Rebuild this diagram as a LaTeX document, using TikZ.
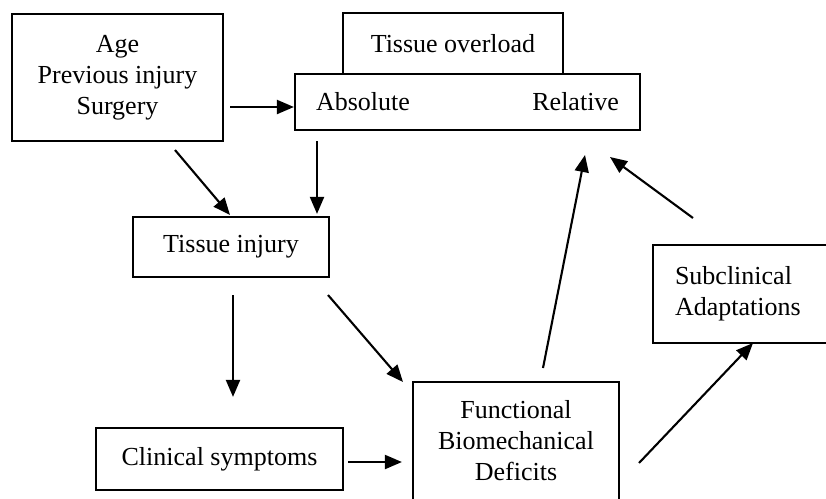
\documentclass[tikz,border=0pt]{standalone}
\usepackage{fontspec}
\setmainfont{Liberation Serif}
\usetikzlibrary{arrows.meta}
\begin{document}
\begin{tikzpicture}[x=1pt,y=-1pt,
  box/.style={draw,line width=2.2pt,inner sep=0pt,align=center,
    font=\fontsize{26}{31}\selectfont},
  arr/.style={line width=2.1pt,-{Triangle[length=17pt,width=14pt]}}]
\useasboundingbox (0,0) rectangle (826,498);

% boxes
\node[box,minimum width=211,minimum height=127] (A) at (117.5,77.5)
  {Age\\Previous injury\\Surgery};
\node[box,minimum width=220,minimum height=61] (TO) at (453,43.5) {Tissue overload};
\node[box,minimum width=345,minimum height=56,text width=303,inner xsep=21,align=left]
  (ov) at (467.5,102) {Absolute\hfill Relative};
\node[box,minimum width=196,minimum height=60] (TI) at (231,247) {Tissue injury};
\node[box,minimum width=247,minimum height=62] (CS) at (219.5,459) {Clinical symptoms};
\node[box,minimum width=206,minimum height=118] (FB) at (516,441)
  {Functional\\Biomechanical\\Deficits};
\node[box,text width=136,inner xsep=22,minimum height=98,align=left] (SA) at (743,294)
  {Subclinical\\Adaptations};

% connector end points
\coordinate (a1) at (230,107);
\coordinate (a2s) at (175,150);  \coordinate (a2e) at (230,215);
\coordinate (a3) at (317,141);
\coordinate (a4) at (233,295);
\coordinate (a5s) at (328,295);  \coordinate (a5e) at (403,382);
\coordinate (a6) at (348,462);
\coordinate (a7s) at (543,368);  \coordinate (a7e) at (585,155);
\coordinate (a8s) at (693,218);  \coordinate (a8e) at (610,157);
\coordinate (a9s) at (639,463);  \coordinate (a9e) at (753,343);

% connectors
\draw[arr] (a1) -- (a1 -| ov.west);
\draw[arr] (a2s) -- (a2e);
\draw[arr] (a3) -- ([yshift=2]a3 |- TI.north);
\draw[arr] (a4) -- ([yshift=30]a4 |- CS.north);
\draw[arr] (a5s) -- (a5e);
\draw[arr] (a6) -- ([xshift=-10]a6 -| FB.west);
\draw[arr] (a7s) -- (a7e);
\draw[arr] (a8s) -- (a8e);
\draw[arr] (a9s) -- (a9e);
\end{tikzpicture}
\end{document}
